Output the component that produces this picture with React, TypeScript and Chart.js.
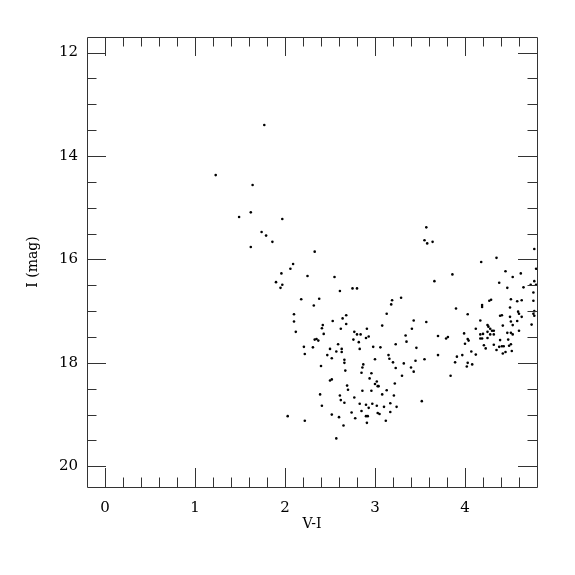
import React, { useEffect, useRef } from "react";
import { Chart, registerables } from "chart.js";

Chart.register(...registerables);

// [V-I, I (mag)] pairs
const UPPER_BRANCH: [number, number][] = [
  [1.77, 13.40], [1.23, 14.37], [1.64, 14.56], [1.62, 15.09], [1.49, 15.18], [1.97, 15.22],
  [1.74, 15.47], [1.79, 15.54], [1.86, 15.66], [1.62, 15.76], [2.33, 15.85],
];

const MAIN_GROUP: [number, number][] = [
  [2.09, 16.09], [2.06, 16.18], [1.96, 16.27], [2.25, 16.32], [2.55, 16.34], [1.90, 16.44],
  [1.97, 16.49], [1.95, 16.55], [2.61, 16.61], [2.75, 16.56], [2.80, 16.56], [2.18, 16.77],
  [2.38, 16.76], [2.32, 16.89], [2.10, 17.06], [2.10, 17.20], [2.12, 17.40], [2.68, 17.08],
  [2.64, 17.14], [2.53, 17.19], [2.68, 17.25], [2.42, 17.27], [2.41, 17.33], [2.62, 17.34],
  [2.43, 17.44], [2.77, 17.40], [2.91, 17.34], [2.80, 17.45], [2.84, 17.45], [2.93, 17.49],
  [2.90, 17.52], [2.76, 17.55], [2.82, 17.60], [2.33, 17.55], [2.35, 17.54], [2.37, 17.57],
  [2.59, 17.64], [2.21, 17.69], [2.31, 17.70], [2.50, 17.73], [2.63, 17.73], [2.57, 17.78],
  [2.63, 17.79], [2.83, 17.73], [2.98, 17.69], [2.22, 17.83], [2.47, 17.85], [2.52, 17.91],
  [2.66, 17.94], [2.66, 18.00], [3.00, 17.93], [2.87, 18.03], [2.86, 18.09], [2.40, 18.06],
  [2.67, 18.15], [2.85, 18.19], [2.96, 18.20], [2.94, 18.30], [2.52, 18.32], [2.50, 18.34],
  [3.02, 18.36], [2.69, 18.44], [2.70, 18.52], [3.00, 18.41], [3.03, 18.45], [3.04, 18.45],
  [2.86, 18.54], [2.96, 18.54], [2.39, 18.61], [2.61, 18.63], [2.77, 18.67], [2.62, 18.72],
  [2.66, 18.77], [2.83, 18.79], [2.90, 18.81], [2.97, 18.79], [2.93, 18.87], [3.02, 18.83],
  [2.41, 18.83], [2.85, 18.93], [2.74, 18.96], [3.03, 18.97], [3.05, 18.99], [2.52, 19.00],
  [2.60, 19.05], [2.78, 19.07], [2.90, 19.03], [2.92, 19.03], [2.03, 19.03], [2.22, 19.12],
  [2.91, 19.16], [2.65, 19.21], [3.06, 17.70], [2.57, 19.46],
];

const MIDDLE_GROUP: [number, number][] = [
  [3.19, 16.79], [3.18, 16.87], [3.13, 17.05], [3.43, 17.18], [3.08, 17.28], [3.41, 17.34],
  [3.34, 17.47], [3.35, 17.59], [3.46, 17.71], [3.23, 17.64], [3.15, 17.85], [3.16, 17.92],
  [3.20, 17.99], [3.32, 18.01], [3.45, 17.96], [3.23, 18.10], [3.40, 18.09], [3.43, 18.17],
  [3.30, 18.25], [3.22, 18.40], [3.13, 18.53], [3.21, 18.63], [3.17, 18.78], [3.24, 18.85],
  [3.17, 18.95], [3.12, 19.12], [3.10, 18.85], [3.08, 18.61], [3.52, 18.74],
];

const RED_GROUP: [number, number][] = [
  [3.57, 15.38], [3.55, 15.63], [3.58, 15.69], [3.64, 15.66], [4.77, 15.80], [4.18, 16.05],
  [4.35, 15.97], [4.79, 16.18], [4.45, 16.23], [3.86, 16.29], [4.62, 16.27], [4.53, 16.34],
  [3.66, 16.42], [4.38, 16.45], [4.77, 16.42], [4.73, 16.49], [4.79, 16.49], [4.47, 16.55],
  [4.65, 16.54], [4.76, 16.64], [3.29, 16.74], [4.29, 16.78], [4.27, 16.80], [4.51, 16.77],
  [4.58, 16.81], [4.63, 16.79], [4.76, 16.80], [4.19, 16.88], [4.19, 16.92], [3.90, 16.95],
  [4.50, 16.93], [4.59, 17.01], [4.60, 17.05], [4.77, 17.00], [4.76, 17.05], [4.77, 17.09],
  [4.03, 17.06], [4.41, 17.08], [4.39, 17.09], [4.50, 17.11], [4.63, 17.11], [3.57, 17.21],
  [4.17, 17.18], [4.51, 17.20], [4.58, 17.19], [4.25, 17.27], [4.26, 17.30], [4.42, 17.28],
  [4.53, 17.27], [4.74, 17.26], [4.12, 17.34], [4.60, 17.38], [4.28, 17.34], [4.30, 17.38],
  [4.32, 17.38], [4.25, 17.40], [3.99, 17.43], [4.17, 17.45], [4.20, 17.44], [4.47, 17.42],
  [4.51, 17.42], [4.53, 17.45], [4.28, 17.45], [4.32, 17.45], [3.70, 17.48], [3.79, 17.53],
  [3.81, 17.50], [4.03, 17.54], [4.04, 17.57], [4.17, 17.53], [4.19, 17.53], [4.25, 17.52],
  [4.39, 17.56], [4.48, 17.55], [4.00, 17.63], [4.21, 17.66], [4.23, 17.72], [4.32, 17.65],
  [4.38, 17.69], [4.41, 17.68], [4.43, 17.68], [4.49, 17.67], [4.51, 17.64], [4.35, 17.75],
  [4.42, 17.82], [4.45, 17.79], [4.52, 17.77], [4.07, 17.78], [4.12, 17.84], [3.97, 17.85],
  [3.91, 17.88], [3.70, 17.85], [3.55, 17.93], [3.89, 17.99], [4.03, 18.00], [4.02, 18.07],
  [4.08, 18.03], [3.84, 18.25],
];

const X_LABEL_TICKS = [0, 1, 2, 3, 4];
const Y_LABEL_TICKS = [12, 14, 16, 18, 20];
const X_MINOR_TICKS = [
  0, 0.2, 0.4, 0.6, 0.8, 1, 1.2, 1.4, 1.6, 1.8, 2, 2.2, 2.4, 2.6, 2.8, 3, 3.2, 3.4, 3.6, 3.8,
  4, 4.2, 4.4, 4.6,
];
const Y_MINOR_TICKS = [
  12, 12.5, 13, 13.5, 14, 14.5, 15, 15.5, 16, 16.5, 17, 17.5, 18, 18.5, 19, 19.5, 20,
];

const X_TITLE = "V-I";
const Y_TITLE = "I (mag)";
const FONT = "'DejaVu Serif', serif";

const frameTicks = {
  id: "frameTicks",
  afterDatasetsDraw(chart: any) {
    const { ctx, chartArea, scales } = chart;
    const { left, right, top, bottom } = chartArea;
    const xs = scales.x;
    const ys = scales.y;
    const MAJOR = 19;
    const MINOR = 9.5;
    ctx.save();
    ctx.strokeStyle = "#333";
    ctx.lineWidth = 1;
    ctx.beginPath();
    ctx.rect(Math.round(left) + 0.5, Math.round(top) + 0.5, Math.round(right - left), Math.round(bottom - top));
    const isMajor = (v: number, list: number[]) => list.some((m) => Math.abs(m - v) < 1e-6);
    X_MINOR_TICKS.forEach((v) => {
      const px = Math.round(xs.getPixelForValue(v)) + 0.5;
      const len = isMajor(v, X_LABEL_TICKS) ? MAJOR : MINOR;
      ctx.moveTo(px, bottom);
      ctx.lineTo(px, bottom - len);
      ctx.moveTo(px, top);
      ctx.lineTo(px, top + len);
    });
    Y_MINOR_TICKS.forEach((v) => {
      const py = Math.round(ys.getPixelForValue(v)) + 0.5;
      const len = isMajor(v, Y_LABEL_TICKS) ? MAJOR : MINOR;
      ctx.moveTo(left, py);
      ctx.lineTo(left + len, py);
      ctx.moveTo(right, py);
      ctx.lineTo(right - len, py);
    });
    ctx.stroke();
    ctx.restore();
  },
};

export default function App() {
  const canvasRef = useRef<HTMLCanvasElement | null>(null);

  useEffect(() => {
    if (!canvasRef.current) return;
    const toPoints = (arr: [number, number][]) => arr.map(([x, y]) => ({ x, y }));
    const points = [
      ...toPoints(UPPER_BRANCH),
      ...toPoints(MAIN_GROUP),
      ...toPoints(MIDDLE_GROUP),
      ...toPoints(RED_GROUP),
    ];
    const chart = new Chart(canvasRef.current, {
      type: "scatter",
      data: {
        datasets: [
          {
            data: points,
            pointRadius: 1.3,
            pointHoverRadius: 1.3,
            pointBackgroundColor: "#000",
            pointBorderWidth: 0,
            clip: 0 as any,
          },
        ],
      },
      options: {
        animation: false,
        responsive: false,
        devicePixelRatio: 1,
        layout: { padding: { left: 0, top: 37, right: 38, bottom: 0 } },
        plugins: { legend: { display: false }, tooltip: { enabled: false } },
        scales: {
          x: {
            type: "linear",
            position: "bottom",
            min: -0.2,
            max: 4.8,
            grid: { display: false, drawTicks: false },
            border: { display: false },
            afterBuildTicks: (s: any) => {
              s.ticks = X_LABEL_TICKS.map((v) => ({ value: v }));
            },
            afterFit: (s: any) => {
              s.height = 88;
            },
            ticks: {
              padding: 12,
              color: "#000",
              maxRotation: 0,
              autoSkip: false,
              font: { family: FONT, size: 15 },
              callback: (v: any) => String(v),
            },
            title: {
              display: true,
              text: X_TITLE,
              color: "#000",
              font: { family: FONT, size: 14 },
              padding: { top: 0, bottom: 42.6 },
            },
          },
          y: {
            type: "linear",
            position: "left",
            reverse: true,
            min: 11.7,
            max: 20.4,
            grid: { display: false, drawTicks: false },
            border: { display: false },
            afterBuildTicks: (s: any) => {
              s.ticks = Y_LABEL_TICKS.map((v) => ({ value: v }));
            },
            afterFit: (s: any) => {
              s.width = 87;
            },
            ticks: {
              padding: 9,
              color: "#000",
              autoSkip: false,
              font: { family: FONT, size: 15 },
              callback: (v: any) => String(v),
            },
            title: {
              display: true,
              text: Y_TITLE,
              color: "#000",
              font: { family: FONT, size: 14 },
              padding: { top: 24.6, bottom: 0 },
            },
          },
        },
      },
      plugins: [frameTicks],
    });
    return () => chart.destroy();
  }, []);

  return (
    <div style={{ position: "fixed", left: 0, top: 0, width: 575, height: 575, background: "#fff" }}>
      <canvas ref={canvasRef} width={575} height={575} style={{ display: "block" }} />
    </div>
  );
}
